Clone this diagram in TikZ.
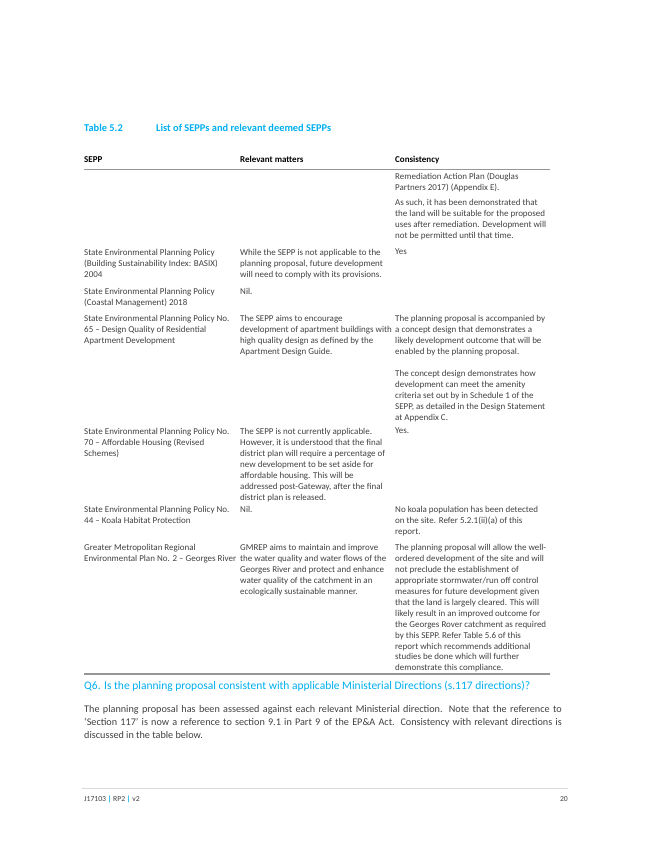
\documentclass[tikz,border=0pt]{standalone}
\usepackage{fontspec}
\setmainfont{Carlito}
\definecolor{headblue}{RGB}{0,174,239}
\definecolor{rulegrey}{RGB}{150,150,150}
\definecolor{textgrey}{RGB}{64,64,64}
\tikzset{
  cell/.style={anchor=north west, inner sep=0pt, align=left, text=textgrey,
    font=\fontsize{8.2}{10}\selectfont},
  headcell/.style={cell, text=black, font=\bfseries\fontsize{8.2}{10}\selectfont},
  rowrule/.style={draw=rulegrey, line width=0.6pt}
}
\begin{document}
\begin{tikzpicture}[x=0.913pt, y=-0.913pt]
  \useasboundingbox (0,0) rectangle (652,844);
  % caption
  \node (tabno) [cell, text=headblue, font=\bfseries\fontsize{9.5}{11}\selectfont] at (84,124) {Table 5.2};
  \node (tabtitle) [cell, text=headblue, font=\bfseries\fontsize{9.5}{11}\selectfont] at (156,124) {List of SEPPs and relevant deemed SEPPs};
  % header
  \node (hsepp) [headcell] at (84,156) {SEPP};
  \node (hmatter) [headcell] at (240,156) {Relevant matters};
  \node (hcons) [headcell] at (395,156) {Consistency};
  \coordinate (hl) at (84,169);
  \coordinate (hr) at (550,169);
  \draw[rowrule] (hl) -- (hr);
  % row 0
  \node (c0a) [cell] at (395,173) {Remediation Action Plan (Douglas\\Partners 2017) (Appendix E).};
  \node (c0b) [cell] at (395,199) {As such, it has been demonstrated that\\the land will be suitable for the proposed\\uses after remediation. Development will\\not be permitted until that time.};
  % BASIX
  \node (s1) [cell] at (84,249) {State Environmental Planning Policy\\(Building Sustainability Index: BASIX)\\2004};
  \node (m1) [cell] at (240,249) {While the SEPP is not applicable to the\\planning proposal, future development\\will need to comply with its provisions.};
  \node (c1) [cell] at (395,249) {Yes};
  % coastal
  \node (s2) [cell] at (84,288) {State Environmental Planning Policy\\(Coastal Management) 2018};
  \node (m2) [cell] at (240,288) {Nil.};
  % SEPP 65
  \node (s3) [cell] at (84,315) {State Environmental Planning Policy No.\\65 -- Design Quality of Residential\\Apartment Development};
  \node (m3) [cell] at (240,315) {The SEPP aims to encourage\\development of apartment buildings with\\high quality design as defined by the\\Apartment Design Guide.};
  \node (c3a) [cell] at (395,315) {The planning proposal is accompanied by\\a concept design that demonstrates a\\likely development outcome that will be\\enabled by the planning proposal.};
  \node (c3b) [cell] at (395,370) {The concept design demonstrates how\\development can meet the amenity\\criteria set out by in Schedule 1 of the\\SEPP, as detailed in the Design Statement\\at Appendix C.};
  % SEPP 70
  \node (s4) [cell] at (84,428) {State Environmental Planning Policy No.\\70 -- Affordable Housing (Revised\\Schemes)};
  \node (m4) [cell] at (240,428) {The SEPP is not currently applicable.\\However, it is understood that the final\\district plan will require a percentage of\\new development to be set aside for\\affordable housing. This will be\\addressed post-Gateway, after the final\\district plan is released.};
  \node (c4) [cell] at (395,428) {Yes.};
  % SEPP 44
  \node (s5) [cell] at (84,506) {State Environmental Planning Policy No.\\44 -- Koala Habitat Protection};
  \node (m5) [cell] at (240,506) {Nil.};
  \node (c5) [cell] at (395,506) {No koala population has been detected\\on the site. Refer 5.2.1(ii)(a) of this\\report.};
  % GMREP
  \node (s6) [cell] at (84,544) {Greater Metropolitan Regional\\Environmental Plan No. 2 -- Georges River};
  \node (m6) [cell] at (240,544) {GMREP aims to maintain and improve\\the water quality and water flows of the\\Georges River and protect and enhance\\water quality of the catchment in an\\ecologically sustainable manner.};
  \node (c6) [cell] at (395,544) {The planning proposal will allow the well-\\ordered development of the site and will\\not preclude the establishment of\\appropriate stormwater/run off control\\measures for future development given\\that the land is largely cleared. This will\\likely result in an improved outcome for\\the Georges Rover catchment as required\\by this SEPP. Refer Table 5.6 of this\\report which recommends additional\\studies be done which will further\\demonstrate this compliance.};
  \coordinate (bl) at (84,674);
  \coordinate (br) at (550,674);
  \draw[rowrule, line width=1pt] (bl) -- (br);
  % Q6
  \node (q6) [cell, text=headblue, font=\fontsize{10.5}{12}\selectfont] at (84,681) {Q6. Is the planning proposal consistent with applicable Ministerial Directions (s.117 directions)?};
  \node (para) [cell, text width=436pt, align=justify, font=\fontsize{9.3}{12}\selectfont] at (84,705) {The planning proposal has been assessed against each relevant Ministerial direction. Note that the reference to `Section 117' is now a reference to section 9.1 in Part 9 of the EP\&A Act. Consistency with relevant directions is discussed in the table below.};
  % footer
  \coordinate (fl) at (82,788);
  \coordinate (fr) at (568,788);
  \draw[draw=black!15, line width=0.5pt] (fl) -- (fr);
  \node (foot) [cell, font=\fontsize{7}{8}\selectfont] at (84,796) {J17103 \textcolor{headblue}{\textbf{|}} RP2 \textcolor{headblue}{\textbf{|}} v2};
  \node (pageno) [cell, anchor=north east, font=\fontsize{7}{8}\selectfont] at (568,796) {20};
\end{tikzpicture}
\end{document}
